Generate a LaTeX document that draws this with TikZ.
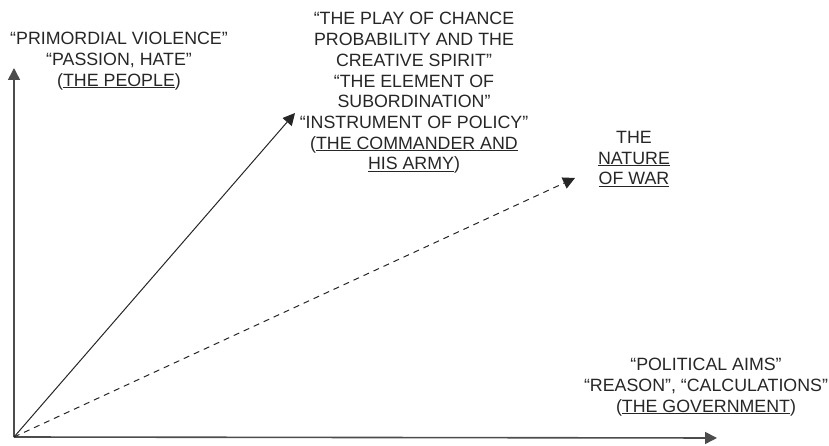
\documentclass[tikz,border=0pt]{standalone}
\usepackage{fontspec}
\setmainfont{Liberation Sans}
\usetikzlibrary{arrows.meta}

\begin{document}
\begin{tikzpicture}[x=1pt,y=1pt,>={Triangle[length=12pt,width=12pt]},
    axis/.style={->,line width=1.6pt,draw=black!70},
    force/.style={->,line width=1pt,draw=black!85},
    label node/.style={align=center,font=\fontsize{17.8}{20.7}\selectfont,text=black!85,inner sep=0pt}]

    \useasboundingbox (0,0) rectangle (829,446);

    \coordinate (o) at (14,9);
    \coordinate (people) at (14,378);
    \coordinate (government) at (717,8);
    \coordinate (army) at (295,333);
    \coordinate (war) at (575,268);

    \node[label node] (peoplelabel) at (119,385) {``PRIMORDIAL VIOLENCE''\\``PASSION, HATE''\\(\underline{THE PEOPLE})};
    \node[label node] (armylabel) at (414,353) {``THE PLAY OF CHANCE\\PROBABILITY AND THE\\CREATIVE SPIRIT''\\``THE ELEMENT OF\\SUBORDINATION''\\``INSTRUMENT OF POLICY''\\(\underline{THE COMMANDER AND}\\\underline{HIS ARMY})};
    \node[label node] (warlabel) at (634,287) {THE\\\underline{NATURE}\\\underline{OF WAR}};
    \node[label node] (governmentlabel) at (706,59) {``POLITICAL AIMS''\\``REASON'', ``CALCULATIONS''\\(\underline{THE GOVERNMENT})};

    \draw[axis] (o) -- (people);
    \draw[axis] (o) -- (government);
    \draw[force] (o) -- (army);
    \draw[force,dashed,dash pattern=on 6pt off 5pt] (o) -- (war);
\end{tikzpicture}
\end{document}
